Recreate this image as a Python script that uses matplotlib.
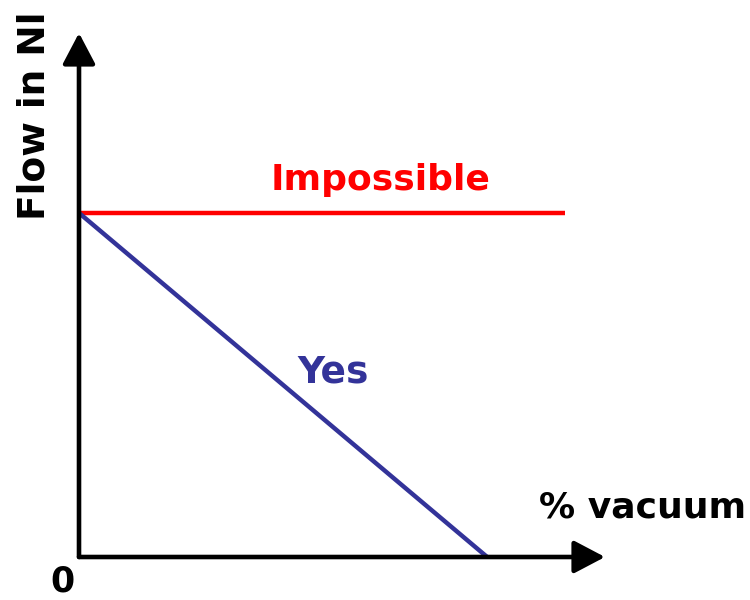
import matplotlib
matplotlib.use("Agg")
import matplotlib.pyplot as plt

# Data (arbitrary units)
vacuum_yes = [0, 77.6]        # % vacuum
flow_yes = [1.0, 0.0]         # flow
vacuum_impossible = [0, 92.4]
flow_impossible = [1.0, 1.0]

x_label = "% vacuum"
y_label = "Flow in Nl"
origin_label = "0"
label_impossible = "Impossible"
label_yes = "Yes"

fig = plt.figure(figsize=(7.5, 6), dpi=100)
ax = fig.add_axes([79/750, 43/600, 526/750, 524/600])
ax.set_xlim(0, 100)
ax.set_ylim(0, 1.523)
ax.axis("off")

FONT = "DejaVu Sans"

# axes arrows
arrow_kw = dict(arrowstyle="-|>,head_length=0.95,head_width=0.5", lw=3.3, color="black",
                shrinkA=0, shrinkB=0, mutation_scale=20)
ax.annotate("", xy=(1, 0), xytext=(0, 0), xycoords="axes fraction",
            arrowprops=arrow_kw, annotation_clip=False)
ax.annotate("", xy=(0, 1), xytext=(0, 0), xycoords="axes fraction",
            arrowprops=arrow_kw, annotation_clip=False)

ax.plot(vacuum_impossible, flow_impossible, color="#ff0000", lw=3.2, clip_on=False,
        solid_capstyle="butt")
ax.plot(vacuum_yes, flow_yes, color="#333399", lw=3.2, clip_on=False,
        solid_capstyle="butt")

ax.text(57.3, 1.095, label_impossible, color="#ff0000", fontsize=26, fontweight="bold",
        ha="center", va="center", family=FONT)
ax.text(48.3, 0.535, label_yes, color="#333399", fontsize=27, fontweight="bold",
        ha="center", va="center", family=FONT)

fig.text(643/750, 1 - 507/600, x_label, fontsize=26, fontweight="bold",
         ha="center", va="center", family=FONT)
fig.text(35/750, 1 - 116/600, y_label, fontsize=27, fontweight="bold", rotation=90,
         ha="center", va="center", family=FONT)
fig.text(62/750, 1 - 582/600, origin_label, fontsize=25, fontweight="bold",
         ha="center", va="center", family=FONT)

fig.savefig("out.png", dpi=100)
